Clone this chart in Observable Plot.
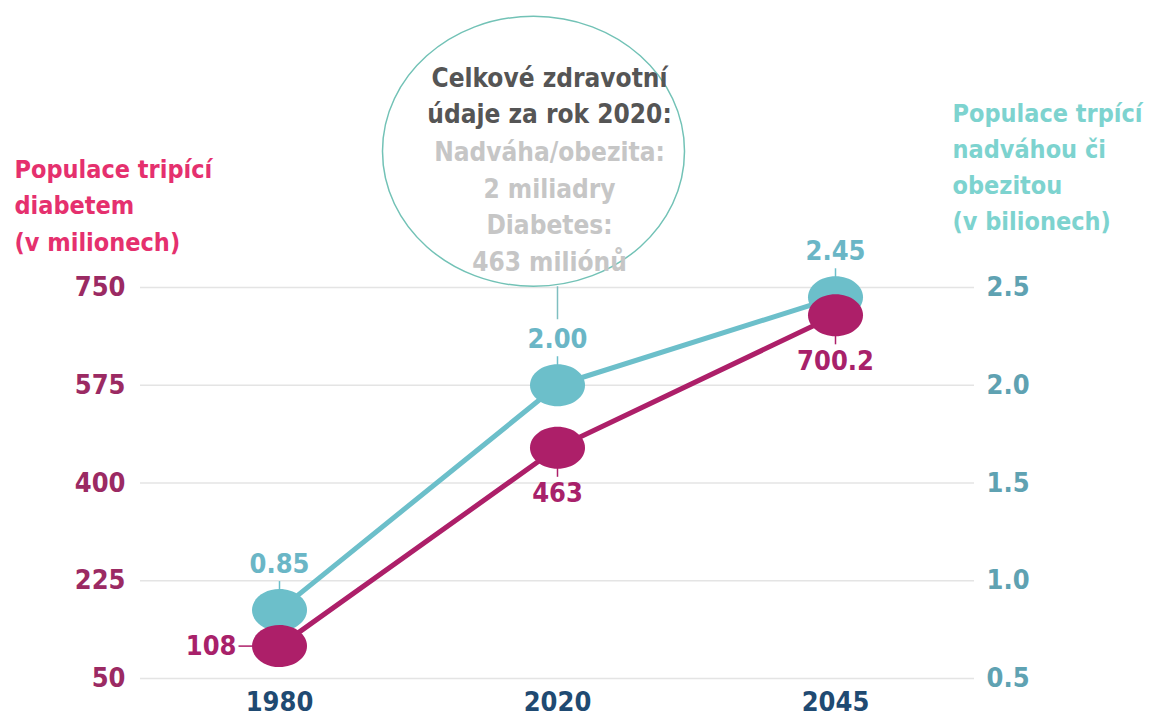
<!DOCTYPE html>
<html><head><meta charset="utf-8">
<script src="https://cdn.jsdelivr.net/npm/d3@7"></script>
<script src="https://cdn.jsdelivr.net/npm/@observablehq/plot@0.6"></script>
<style>
html,body{margin:0;padding:0;background:#fff;}
#chart svg{display:block;}
</style></head><body><div id="chart"></div>
<script>
const years = ["1980", "2020", "2045"];
const diabetes = [108, 463, 700.2];
const obesity = [0.85, 2.00, 2.45];
const diabetesLabels = ["108", "463", "700.2"];
const obesityLabels = ["0.85", "2.00", "2.45"];
const leftTicks = [50, 225, 400, 575, 750];
const rightTicks = [0.5, 1.0, 1.5, 2.0, 2.5];
const leftTitle = "Populace tripící\ndiabetem\n(v milionech)";
const rightTitle = "Populace trpící\nnadváhou či\nobezitou\n(v bilionech)";
const calloutHead = "Celkové zdravotní\núdaje za rok 2020:";
const calloutBody = "Nadváha/obezita:\n2 miliadry\nDiabetes:\n463 miliónů";

// right axis (0.5–2.5) mapped linearly onto left axis (50–750)
const toLeft = v => 50 + (v - 0.5) * 350;
const fromLeft = d => (d - 50) / 350 + 0.5;

const rows = years.map((year, i) => ({
  year, diabetes: diabetes[i], obesityL: toLeft(obesity[i]),
  dLabel: diabetesLabels[i], oLabel: obesityLabels[i]
}));

function ellipseSym(rx, ry) {
  const k = 0.5522847498;
  return {draw(ctx) {
    ctx.moveTo(rx, 0);
    ctx.bezierCurveTo(rx, ry * k, rx * k, ry, 0, ry);
    ctx.bezierCurveTo(-rx * k, ry, -rx, ry * k, -rx, 0);
    ctx.bezierCurveTo(-rx, -ry * k, -rx * k, -ry, 0, -ry);
    ctx.bezierCurveTo(rx * k, -ry, rx, -ry * k, rx, 0);
    ctx.closePath();
  }};
}
function segSym(x1, y1, x2, y2) {
  return {draw(ctx) { ctx.moveTo(x1, y1); ctx.lineTo(x2, y2); }};
}

const TEAL = "#6cbfca", MAG = "#ad1f69";
const FONT = "'Liberation Sans Narrow', 'DejaVu Sans Condensed', 'Roboto', sans-serif";

const first = rows.filter((d, i) => i === 0);
const rest = rows.filter((d, i) => i > 0);
const mid = rows.filter(d => d.year === "2020");

const chart = Plot.plot({
  width: 1159,
  height: 720,
  marginLeft: 140,
  marginRight: 185,
  marginTop: 287,
  marginBottom: 42,
  style: {fontFamily: FONT, fontWeight: "bold", background: "#fff", overflow: "visible"},
  x: {type: "point", domain: years, padding: 0.5},
  y: {domain: [50, 750]},
  marks: [
    Plot.ruleY(leftTicks, {stroke: "#e4e4e4", strokeWidth: 1.5}),
    Plot.axisY(leftTicks, {anchor: "left", tickSize: 0, tickPadding: 15, fill: "#9b2a63", fontSize: 27, fontWeight: "bold", label: null}),
    Plot.axisY(rightTicks.map(toLeft), {anchor: "right", tickSize: 0, tickPadding: 12, fill: "#5fa2b2", fontSize: 27, fontWeight: "bold", label: null, tickFormat: d => fromLeft(d).toFixed(1)}),
    Plot.axisX({tickSize: 0, tickPadding: 13, fill: "#1f4a72", fontSize: 27, fontWeight: "bold", label: null}),
    // titles
    Plot.text([leftTitle], {frameAnchor: "top-left", lineAnchor: "middle", dx: -126, dy: -85, textAnchor: "start", fill: "#e5306e", fontSize: 25, lineHeight: 1.47}),
    Plot.text([rightTitle], {frameAnchor: "top-right", lineAnchor: "middle", dx: -22, dy: -123, textAnchor: "start", fill: "#7dd3cf", fontSize: 25, lineHeight: 1.45}),
    // callout
    Plot.dot(mid, {x: "year", y: "obesityL", r: 10, symbol: ellipseSym(151, 135), dx: -24, dy: -234, fill: "white", stroke: "#72c2b6", strokeWidth: 1.5}),
    Plot.dot(mid, {x: "year", y: "obesityL", r: 10, symbol: segSym(0, -99, 0, -66), fill: "none", stroke: "#7fbfc0", strokeWidth: 1.5}),
    Plot.text(mid, {x: "year", y: "obesityL", text: () => calloutHead, dx: -8, dy: -292, fill: "#555555", fontSize: 26, lineHeight: 1.41}),
    Plot.text(mid, {x: "year", y: "obesityL", text: () => calloutBody, dx: -8, dy: -181, fill: "#c6c6c6", fontSize: 26, lineHeight: 1.41}),
    // lines
    Plot.line(rows, {x: "year", y: "obesityL", stroke: TEAL, strokeWidth: 5}),
    Plot.line(rows, {x: "year", y: "diabetes", stroke: MAG, strokeWidth: 5}),
    // small label ticks
    Plot.dot(rows, {x: "year", y: "obesityL", r: 10, symbol: segSym(0, -20, 0, -29), fill: "none", stroke: TEAL, strokeWidth: 1.5}),
    Plot.dot(first, {x: "year", y: "diabetes", r: 10, symbol: segSym(-27, 0, -41, 0), fill: "none", stroke: MAG, strokeWidth: 1.5}),
    Plot.dot(rest, {x: "year", y: "diabetes", r: 10, symbol: segSym(0, 20, 0, 29), fill: "none", stroke: MAG, strokeWidth: 1.5}),
    // dots
    Plot.dot(rows, {x: "year", y: "obesityL", r: 10, symbol: ellipseSym(27.5, 21), fill: TEAL, stroke: "none"}),
    Plot.dot(rows, {x: "year", y: "diabetes", r: 10, symbol: ellipseSym(27.5, 21), fill: MAG, stroke: "none"}),
    // value labels
    Plot.text(rows, {x: "year", y: "obesityL", text: "oLabel", dy: -46, fill: "#6ab6c6", fontSize: 27}),
    Plot.text(first, {x: "year", y: "diabetes", text: "dLabel", dx: -43, textAnchor: "end", fill: "#a8216a", fontSize: 27}),
    Plot.text(rest, {x: "year", y: "diabetes", text: "dLabel", dy: 46, fill: "#a8216a", fontSize: 27})
  ]
});
document.getElementById("chart").appendChild(chart);
</script>
</body></html>
